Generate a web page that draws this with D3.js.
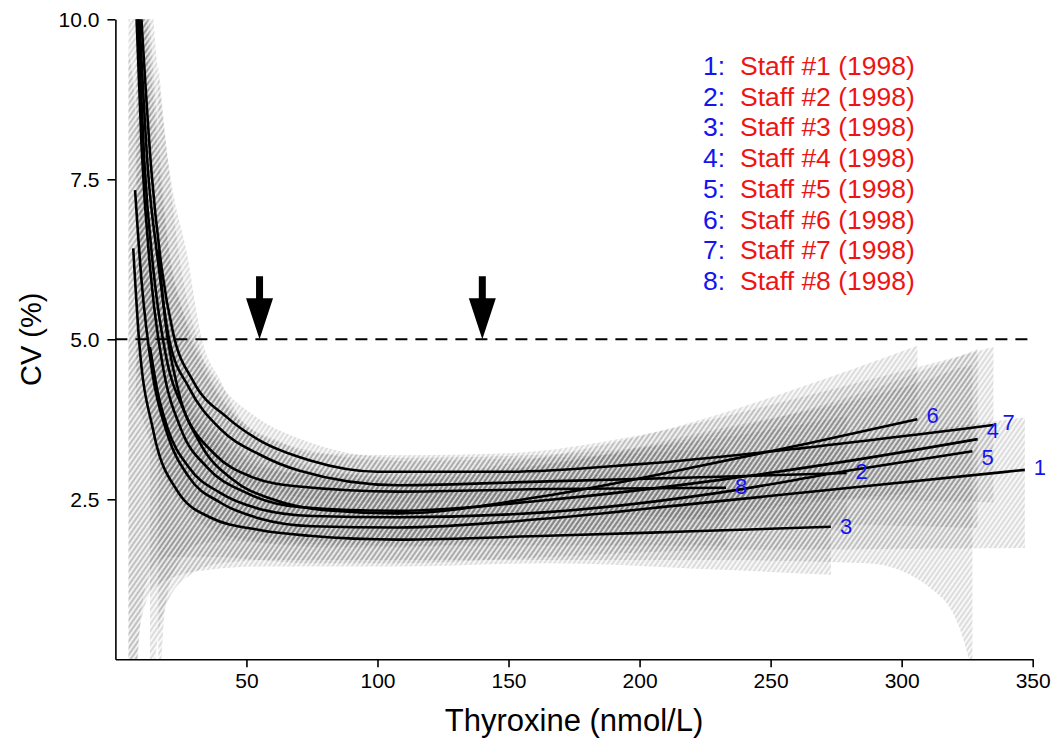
<!DOCTYPE html>
<html lang="en">
<head>
<meta charset="UTF-8">
<title>CV profile</title>
<script src="https://cdn.jsdelivr.net/npm/d3@7"></script>
<style>
    body { margin: 0; background: #fff; }
    svg text { font-family: Arial, "Liberation Sans", sans-serif; }
</style>
</head>
<body>
<div id="graphDiv"></div>
<script>
// ---- data ----
var xTicks = [50, 100, 150, 200, 250, 300, 350];
var yTicks = [2.5, 5, 7.5, 10];
var cvLimit = 5;
var arrowX = [55, 140];
var staffNames = ["Staff #1 (1998)", "Staff #2 (1998)", "Staff #3 (1998)", "Staff #4 (1998)",
                  "Staff #5 (1998)", "Staff #6 (1998)", "Staff #7 (1998)", "Staff #8 (1998)"];

// precision profiles [thyroxine, CV%]
var staff1 = [[7.5,7.33],[10,5.9],[14,4.5],[20,3.5],[28,2.85],[40,2.45],[55,2.2],[75,2.08],[108,2.06],[165,2.2],[223,2.44],[285,2.7],[347,2.96]];
var staff2 = [[8.8,10.3],[12.5,7.6],[16,6.3],[20.5,5.0],[28,4.25],[40,3.6],[55,3.2],[70,2.95],[108,2.72],[165,2.78],[220,2.84],[279,2.91]];
var staff3 = [[6.8,6.42],[9,5.0],[14.4,3.58],[23.5,2.64],[36,2.22],[55,2.02],[74,1.93],[108,1.87],[165,1.93],[220,2.0],[273,2.07]];
var staff4 = [[7.8,10.3],[10,8.0],[14,5.8],[18,4.6],[25,3.6],[35,3.0],[50,2.6],[70,2.38],[108,2.32],[165,2.49],[230,2.8],[280,3.1],[329,3.44]];
var staff5 = [[13.2,4.88],[16,4.2],[20,3.6],[28,3.0],[40,2.6],[55,2.35],[75,2.24],[108,2.22],[165,2.3],[230,2.6],[280,2.95],[327,3.25]];
var staff6 = [[16.4,6.39],[19,5.3],[24,4.2],[32,3.4],[45,2.8],[60,2.5],[80,2.33],[108,2.28],[162,2.54],[223,3.02],[265,3.38],[306,3.75]];
var staff7 = [[9.5,10.3],[13.8,7.6],[17.7,6.1],[22,5.1],[29.6,4.35],[42.6,3.78],[55,3.42],[74,3.11],[100,2.93],[150,2.93],[200,3.05],[262,3.3],[335,3.66]];
var staff8 = [[8.2,10.3],[11,7.8],[15,5.9],[19,4.8],[26,3.9],[38,3.2],[52,2.85],[70,2.7],[108,2.62],[165,2.66],[233,2.68]];

// confidence bands [thyroxine, lower, upper]
var band1 = [[5,-0.5,11],[7.5,-0.5,10.5],[10,0.8,8.6],[14,1.4,6.6],[20,1.6,5.0],[28,1.6,4.0],[40,1.6,3.3],[55,1.55,2.85],[75,1.5,2.65],[108,1.5,2.62],[165,1.6,2.8],[223,1.7,3.1],[285,1.72,3.45],[347,1.74,3.78]];
var band2 = [[8.8,5,14],[12.5,4.6,10.5],[16,4.2,8.4],[20.5,3.7,6.4],[28,3.3,5.2],[40,2.9,4.3],[55,2.65,3.75],[70,2.45,3.45],[108,2.3,3.15],[165,2.3,3.2],[220,2.2,3.4],[279,2.0,3.8]];
var band3 = [[5,-1,9.5],[6.8,-1,9],[9,0.4,7.5],[14.4,1.1,5.4],[23.5,1.3,3.9],[36,1.4,3.05],[55,1.45,2.6],[74,1.45,2.42],[108,1.45,2.3],[165,1.5,2.36],[220,1.42,2.55],[273,1.32,2.8]];
var band4 = [[7.8,4,14],[10,3.8,11.5],[14,3.3,8.2],[18,2.9,6.3],[25,2.5,4.8],[35,2.2,3.8],[50,2.0,3.2],[70,1.85,2.9],[108,1.85,2.8],[165,1.95,3.05],[230,2.05,3.55],[280,2.1,4.1],[329,2.05,4.85]];
var band5 = [[13.2,-1,7.2],[16,0.3,6.3],[20,0.9,5.3],[28,1.3,4.1],[40,1.5,3.5],[55,1.55,3.0],[75,1.55,2.9],[108,1.55,2.9],[165,1.55,3.05],[230,1.55,3.6],[287,1.5,4.1],[312,1.08,4.4],[322,0.5,4.55],[327,-0.2,4.6]];
var band6 = [[16.4,-1,9.3],[19,0.8,8.2],[24,1.5,6.4],[32,1.8,4.9],[45,1.85,3.85],[60,1.8,3.3],[80,1.75,2.95],[108,1.75,2.85],[162,1.95,3.15],[223,2.2,3.74],[265,2.45,4.3],[306,2.6,4.9]];
var band7 = [[9.5,5.5,15],[13.8,5.1,10.5],[17.7,4.6,8.6],[22,4.0,7.3],[27,3.6,6.4],[33,3.3,5.0],[40,3.05,4.36],[49,2.8,3.7],[62,2.62,3.42],[75,2.5,3.22],[110,2.45,3.19],[150,2.45,3.22],[200,2.5,3.5],[262,2.5,4.1],[335,2.45,4.88]];
var band8 = [[8.2,4.5,14],[11,4.2,11],[15,3.5,8.5],[19,2.9,6.8],[26,2.4,5.4],[38,2.0,4.2],[52,1.85,3.6],[70,1.8,3.3],[108,1.78,3.1],[165,1.78,3.15],[233,1.78,3.3]];

var curves = [staff1, staff2, staff3, staff4, staff5, staff6, staff7, staff8];
var bands = [band1, band2, band3, band4, band5, band6, band7, band8];

// ---- drawing ----
var W = 1055, H = 740;
var svg = d3.select("#graphDiv").append("svg").attr("width", W).attr("height", H);

var x = d3.scaleLinear().domain([0, 350]).range([115.4, 1032.7]);
var y = d3.scaleLinear().domain([0, 10]).range([659.3, 19.3]);

var defs = svg.append("defs");
defs.append("clipPath").attr("id", "plotClip").append("rect")
    .attr("x", x(0)).attr("y", y(10)).attr("width", x(350) - x(0)).attr("height", y(0) - y(10));

// shared hatch: the same diagonal lines for every band, so overlaps just get darker
var hatch = defs.append("pattern").attr("id", "hatch")
    .attr("patternUnits", "userSpaceOnUse")
    .attr("width", 4).attr("height", 4)
    .attr("patternTransform", "rotate(35)");
hatch.append("line").attr("x1", 1).attr("y1", 0).attr("x2", 1).attr("y2", 4)
    .attr("stroke", "#555").attr("stroke-width", 1);

var plot = svg.append("g").attr("clip-path", "url(#plotClip)");

var area = d3.area()
    .x(function (d) { return x(d[0]); })
    .y0(function (d) { return y(d[1]); })
    .y1(function (d) { return y(d[2]); })
    .curve(d3.curveMonotoneX);

bands.forEach(function (b) {
    plot.append("path").attr("d", area(b))
        .attr("fill", "#999").attr("fill-opacity", 0.07);
    plot.append("path").attr("d", area(b))
        .attr("fill", "url(#hatch)").attr("opacity", 0.34);
});

// CV 5% limit
plot.append("line")
    .attr("x1", x(0)).attr("x2", x(350))
    .attr("y1", y(cvLimit)).attr("y2", y(cvLimit))
    .attr("stroke", "#000").attr("stroke-width", 2)
    .attr("stroke-dasharray", "12,8");

var line = d3.line()
    .x(function (d) { return x(d[0]); })
    .y(function (d) { return y(d[1]); })
    .curve(d3.curveMonotoneX);

curves.forEach(function (c) {
    plot.append("path").attr("d", line(c))
        .attr("fill", "none").attr("stroke", "#000").attr("stroke-width", 2.6);
});

// curve numbers at the line ends (small vertical nudges keep 4/5/7 apart)
var labelNudge = [-3, -2, -1, -9, 6, -4, -3, -1];
curves.forEach(function (c, i) {
    var last = c[c.length - 1];
    svg.append("text")
        .attr("x", x(last[0]) + 9)
        .attr("y", y(last[1]) + labelNudge[i])
        .attr("dy", "0.35em")
        .attr("fill", "#1414ee")
        .style("font-size", "22px")
        .text(i + 1);
});

// arrows
arrowX.forEach(function (a) {
    var tx = x(a), ty = y(cvLimit);
    var pts = [[tx, ty], [tx - 13.5, ty - 41], [tx - 3.5, ty - 41], [tx - 3.5, ty - 63],
               [tx + 3.5, ty - 63], [tx + 3.5, ty - 41], [tx + 13.5, ty - 41]];
    svg.append("polygon").attr("points", pts.join(" ")).attr("fill", "#000");
});

// axes
var xAxis = svg.append("g").attr("transform", "translate(0," + y(0) + ")")
    .call(d3.axisBottom(x).tickValues(xTicks).tickSize(8).tickSizeOuter(0).tickPadding(6));
var yAxis = svg.append("g").attr("transform", "translate(" + x(0) + ",0)")
    .call(d3.axisLeft(y).tickValues(yTicks).tickSize(8).tickSizeOuter(0).tickPadding(8)
        .tickFormat(d3.format(".1f")));
[xAxis, yAxis].forEach(function (g) {
    g.select(".domain").attr("stroke", "#000").attr("stroke-width", 1.6);
    g.selectAll(".tick line").attr("stroke", "#000").attr("stroke-width", 1.6);
    g.selectAll(".tick text").attr("fill", "#000")
        .style("font-size", "21px").style("font-family", "Arial, 'Liberation Sans', sans-serif");
});

svg.append("text")
    .attr("x", (x(0) + x(350)) / 2).attr("y", 731)
    .attr("text-anchor", "middle")
    .style("font-size", "31px")
    .text("Thyroxine (nmol/L)");

svg.append("text")
    .attr("transform", "translate(41," + ((y(0) + y(10)) / 2) + ") rotate(-90)")
    .attr("text-anchor", "middle")
    .style("font-size", "29px")
    .text("CV (%)");

// legend
var legend = svg.append("g");
staffNames.forEach(function (name, i) {
    var ly = 75 + i * 30.7;
    legend.append("text").attr("x", 703).attr("y", ly)
        .attr("fill", "#1414ee").style("font-size", "26.5px").text((i + 1) + ":");
    legend.append("text").attr("x", 740).attr("y", ly)
        .attr("fill", "#ee1414").style("font-size", "26.5px").text(name);
});
</script>
</body>
</html>
